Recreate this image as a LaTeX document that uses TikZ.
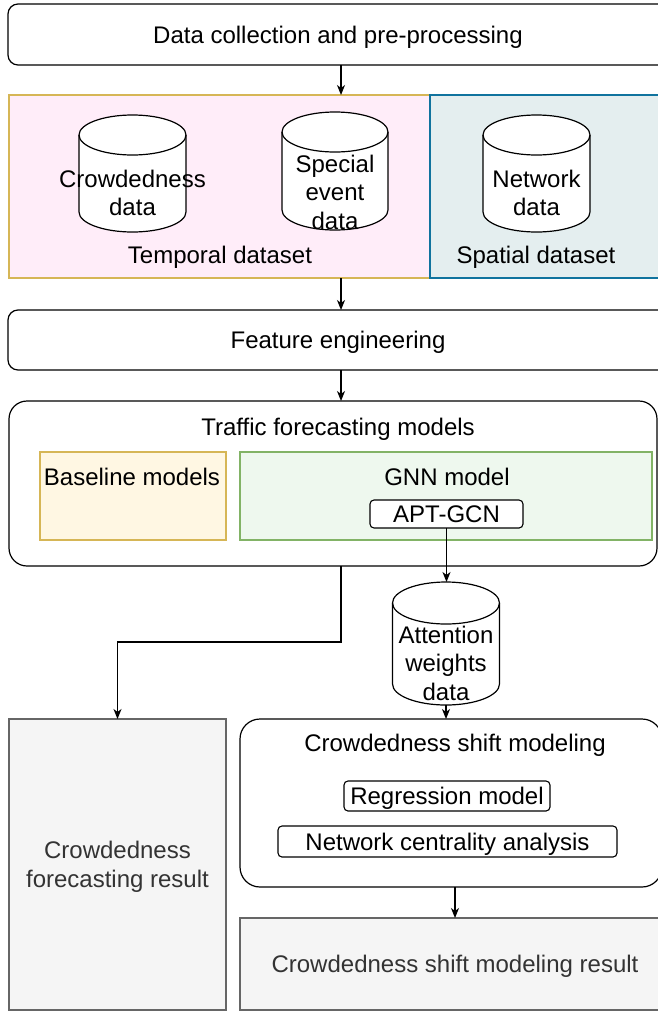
\documentclass[tikz,border=0pt]{standalone}
\usepackage{fontspec}
\setmainfont{Liberation Sans}
\usetikzlibrary{arrows.meta,calc}
\definecolor{tempfill}{HTML}{FFEDF9}
\definecolor{goldline}{HTML}{D6B656}
\definecolor{spatfill}{HTML}{E4EEEF}
\definecolor{blueline}{HTML}{10739E}
\definecolor{basefill}{HTML}{FFF7E3}
\definecolor{gnnfill}{HTML}{EEF8EE}
\definecolor{greenline}{HTML}{82B366}
\definecolor{resfill}{HTML}{F5F5F5}
\definecolor{resline}{HTML}{666666}
\definecolor{restext}{HTML}{333333}
\newcommand{\mycyl}[3]{%
  \draw[fill=white, line width=1.2pt] ($(#1.north west)+(0,#3)$) -- ($(#1.south west)+(0,-#3)$)
    arc[start angle=180,end angle=360,x radius=#2pt,y radius=#3pt]
    -- ($(#1.north east)+(0,#3)$)
    arc[start angle=0,end angle=180,x radius=#2pt,y radius=#3pt] -- cycle;
  \draw[line width=1.2pt] ($(#1.north west)+(0,#3)$)
    arc[start angle=180,end angle=360,x radius=#2pt,y radius=#3pt];
}
\begin{document}
\begin{tikzpicture}[x=1pt,y=-1pt,
  every node/.style={inner sep=0pt, outer sep=0pt, font=\fontsize{24}{28.5}\selectfont, align=center, text depth=0pt},
  rbox/.style={draw, line width=1.2pt, rounded corners=10pt, fill=white},
  bigr/.style={draw, line width=1.2pt, rounded corners=18pt, fill=white},
  sbox/.style={draw, line width=1.1pt, rounded corners=4pt, fill=white},
  plain/.style={draw, line width=1.1pt},
  resbox/.style={draw=resline, fill=resfill, line width=1.1pt, text=restext},
  arr/.style={line width=1.3pt, -{Stealth[length=10pt,width=8pt,inset=3pt]}},
  ln/.style={line width=1.3pt}
]
\useasboundingbox (0,0) rectangle (658,1012);
\clip (0,0) rectangle (658,1012);
\fill[white] (0,0) rectangle (658,1012);

\coordinate (colx) at (341,0);
\coordinate (bendy) at (0,642);

% top
\node[rbox, minimum width=660pt, minimum height=61pt] (top) at (338,34.5) {Data collection and pre-processing};

% datasets
\node[plain, draw=goldline, fill=tempfill, minimum width=421pt, minimum height=183pt] (temporal) at (219.5,186.5) {};
\node[plain, draw=blueline, fill=spatfill, minimum width=238pt, minimum height=183pt] (spatial) at (549,186.5) {};
\node (tlab) at (220,255) {Temporal dataset};
\node (slab) at (536,255) {Spatial dataset};

\node[minimum width=107pt, minimum height=117pt] (cyl1) at (132.5,173.5) {};
\node[minimum width=106pt, minimum height=118pt] (cyl2) at (335,171) {};
\node[minimum width=107pt, minimum height=117pt] (cyl3) at (536.5,173.5) {};
\mycyl{cyl1}{53.5}{20}
\mycyl{cyl2}{53}{20}
\mycyl{cyl3}{53.5}{20}
\node (cyl1t) at (132.5,193) {Crowdedness\\data};
\node (cyl2t) at (335,192) {Special\\event\\data};
\node (cyl3t) at (536.5,193) {Network\\data};

% feature engineering
\node[rbox, minimum width=660pt, minimum height=60pt] (feature) at (338,340) {Feature engineering};

% traffic forecasting
\node[bigr, minimum width=648pt, minimum height=165pt] (traffic) at (333,483.5) {};
\node (traflab) at (338,427) {Traffic forecasting models};
\node[plain, draw=goldline, fill=basefill, minimum width=186pt, minimum height=88pt] (baseline) at (133,496) {};
\node (baselab) at (132,477) {Baseline models};
\node[plain, draw=greenline, fill=gnnfill, minimum width=412pt, minimum height=88pt] (gnn) at (446,496) {};
\node (gnnlab) at (447,477) {GNN model};
\node[sbox, minimum width=153pt, minimum height=28pt] (apt) at (446.5,514) {APT-GCN};

% attention cylinder
\node[minimum width=107pt, minimum height=123pt] (att) at (446,643.5) {};
\mycyl{att}{53.5}{21}
\node (attt) at (446,663) {Attention\\weights\\data};

% results
\node[resbox, minimum width=217pt, minimum height=291pt] (fres) at (117.5,864.5) {Crowdedness\\forecasting result};
\node[bigr, rounded corners=20pt, minimum width=422pt, minimum height=168pt] (shift) at (451,803) {};
\node (shiftlab) at (455,743) {Crowdedness shift modeling};
\node[sbox, minimum width=206pt, minimum height=30pt] (regr) at (447,796) {Regression model};
\node[sbox, minimum width=339pt, minimum height=31pt] (cent) at (447.5,841.5) {Network centrality analysis};
\node[resbox, minimum width=430pt, minimum height=92pt] (sres) at (455,964) {Crowdedness shift modeling result};

% connectors
\draw[arr] (top.south -| colx) -- (temporal.north -| colx);
\draw[arr] (temporal.south -| colx) -- (feature.north -| colx);
\draw[arr] (feature.south -| colx) -- (traffic.north -| colx);
\draw[arr] (traffic.south -| colx) -- (colx |- bendy) -| (fres.north);
\draw[arr] (apt.south) -- (att.north -| apt.south);
\draw[arr] (att.south) -- (shift.north -| att.south);
\draw[arr] (shift.south -| sres.north) -- (sres.north);
\end{tikzpicture}
\end{document}
